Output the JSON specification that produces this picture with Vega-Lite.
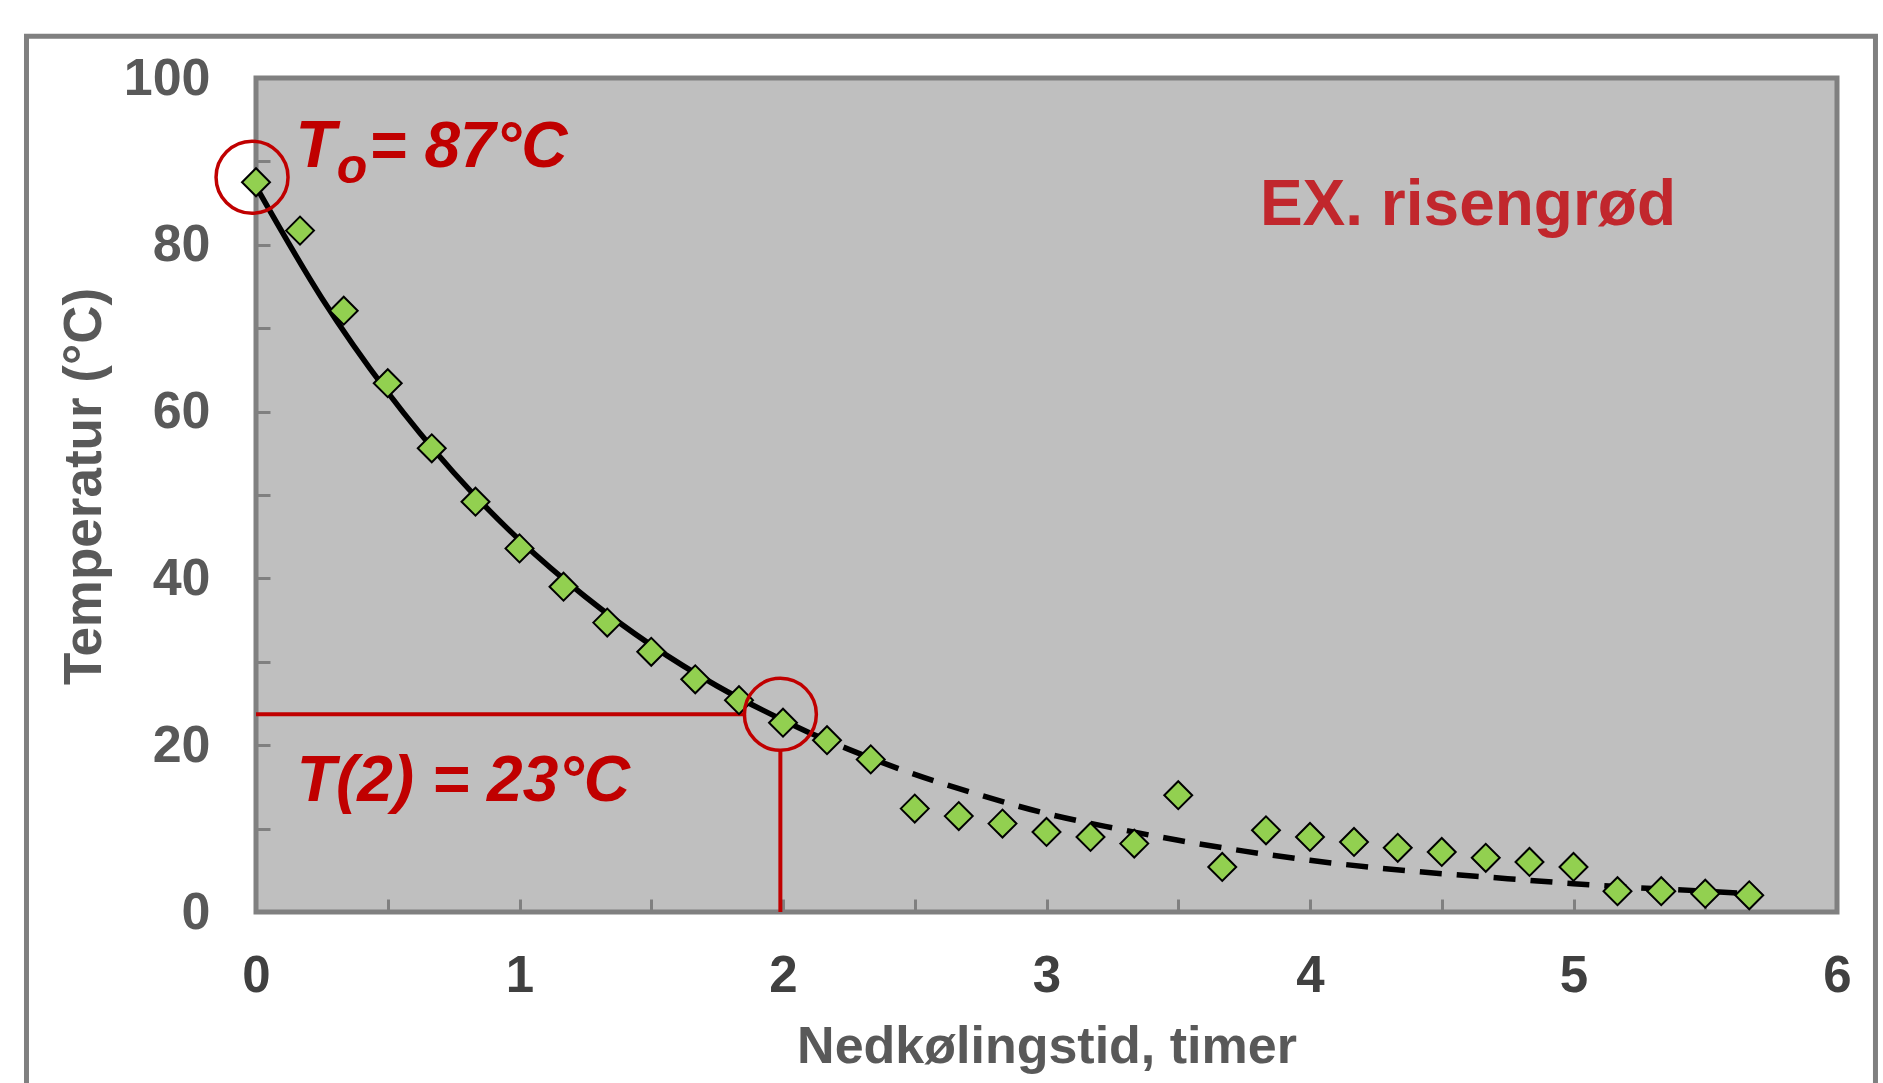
{
  "$schema": "https://vega.github.io/schema/vega-lite/v6.json",
  "width": 1581,
  "height": 834,
  "autosize": {"type": "none"},
  "padding": {"left": 256, "top": 78, "right": 46, "bottom": 171},
  "background": "white",
  "config": {
    "view": {"fill": "#bfbfbf", "stroke": "#808080", "strokeWidth": 5},
    "font": "Liberation Sans"
  },
  "datasets": {
    "obs": [
      {"t": 0, "temp": 87.5}, {"t": 0.167, "temp": 81.7}, {"t": 0.333, "temp": 72.1},
      {"t": 0.5, "temp": 63.4}, {"t": 0.667, "temp": 55.6}, {"t": 0.833, "temp": 49.2},
      {"t": 1.0, "temp": 43.6}, {"t": 1.167, "temp": 39.0}, {"t": 1.333, "temp": 34.7},
      {"t": 1.5, "temp": 31.2}, {"t": 1.667, "temp": 27.9}, {"t": 1.833, "temp": 25.4},
      {"t": 2.0, "temp": 22.7}, {"t": 2.167, "temp": 20.6}, {"t": 2.333, "temp": 18.3},
      {"t": 2.5, "temp": 12.4}, {"t": 2.667, "temp": 11.5}, {"t": 2.833, "temp": 10.6},
      {"t": 3.0, "temp": 9.6}, {"t": 3.167, "temp": 9.0}, {"t": 3.333, "temp": 8.2},
      {"t": 3.5, "temp": 14.0}, {"t": 3.667, "temp": 5.4}, {"t": 3.833, "temp": 9.8},
      {"t": 4.0, "temp": 9.0}, {"t": 4.167, "temp": 8.4}, {"t": 4.333, "temp": 7.7},
      {"t": 4.5, "temp": 7.2}, {"t": 4.667, "temp": 6.5}, {"t": 4.833, "temp": 6.0},
      {"t": 5.0, "temp": 5.4}, {"t": 5.167, "temp": 2.5}, {"t": 5.333, "temp": 2.5},
      {"t": 5.5, "temp": 2.2}, {"t": 5.667, "temp": 2.0}
    ],
    "fit": [
      {"t": 0, "temp": 87.0, "part": "solid"}, {"t": 0.25, "temp": 73.6, "part": "solid"},
      {"t": 0.5, "temp": 62.3, "part": "solid"}, {"t": 0.75, "temp": 52.7, "part": "solid"},
      {"t": 1.0, "temp": 44.6, "part": "solid"}, {"t": 1.25, "temp": 37.8, "part": "solid"},
      {"t": 1.5, "temp": 32.0, "part": "solid"}, {"t": 1.75, "temp": 27.1, "part": "solid"},
      {"t": 2.0, "temp": 23.0, "part": "solid"}, {"t": 2.1, "temp": 21.5, "part": "solid"},
      {"t": 2.1, "temp": 21.5, "part": "dashed"}, {"t": 2.25, "temp": 19.5, "part": "dashed"},
      {"t": 2.5, "temp": 16.5, "part": "dashed"}, {"t": 2.75, "temp": 14.0, "part": "dashed"},
      {"t": 3.0, "temp": 11.8, "part": "dashed"}, {"t": 3.25, "temp": 10.1, "part": "dashed"},
      {"t": 3.5, "temp": 8.6, "part": "dashed"}, {"t": 3.75, "temp": 7.3, "part": "dashed"},
      {"t": 4.0, "temp": 6.2, "part": "dashed"}, {"t": 4.25, "temp": 5.3, "part": "dashed"},
      {"t": 4.5, "temp": 4.6, "part": "dashed"}, {"t": 4.75, "temp": 4.0, "part": "dashed"},
      {"t": 5.0, "temp": 3.4, "part": "dashed"}, {"t": 5.25, "temp": 2.9, "part": "dashed"},
      {"t": 5.5, "temp": 2.5, "part": "dashed"}, {"t": 5.667, "temp": 2.2, "part": "dashed"}
    ],
    "notes": [
      {"t": 0.0, "temp": 87.0, "label": "T0"},
      {"t": 2.0, "temp": 23.0, "label": "T2"}
    ]
  },
  "layer": [
    {
      "data": {"name": "notes"},
      "transform": [{"filter": "datum.label === 'T0'"}],
      "mark": {"type": "rect", "fill": "white", "fillOpacity": 0, "stroke": "#808080", "strokeWidth": 5},
      "encoding": {
        "x": {"datum": -0.871, "type": "quantitative", "scale": {"domain": [0, 6], "nice": false, "zero": false},
          "axis": {
            "title": "Nedkølingstid, timer",
            "values": [0, 0.5, 1, 1.5, 2, 2.5, 3, 3.5, 4, 4.5, 5, 5.5, 6],
            "labelExpr": "datum.value % 1 === 0 ? format(datum.value, 'd') : ''",
            "grid": false, "domain": false,
            "tickColor": "#808080", "tickWidth": 3, "tickSize": -13,
            "labelFont": "Liberation Sans", "labelFontWeight": "bold", "labelFontSize": 51,
            "labelColor": "#404040", "labelPadding": 52, "labelOverlap": false, "labelFlush": false,
            "titleFont": "Liberation Sans", "titleFontWeight": "bold", "titleFontSize": 52,
            "titleColor": "#595959", "titlePadding": 20
          }},
        "x2": {"datum": 6.146},
        "y": {"datum": 105.0, "type": "quantitative", "scale": {"domain": [0, 100], "nice": false},
          "axis": {
            "title": "Temperatur (°C)",
            "values": [0, 10, 20, 30, 40, 50, 60, 70, 80, 90, 100],
            "labelExpr": "datum.value % 20 === 0 ? datum.label : ''",
            "grid": false, "domain": false,
            "tickColor": "#808080", "tickWidth": 3, "tickSize": -14,
            "labelFont": "Liberation Sans", "labelFontWeight": "bold", "labelFontSize": 52,
            "labelColor": "#595959", "labelPadding": 60, "labelOverlap": false, "labelFlush": false,
            "titleFont": "Liberation Sans", "titleFontWeight": "bold", "titleFontSize": 53,
            "titleColor": "#595959", "titlePadding": 12, "titleY": 408
          }},
        "y2": {"datum": -25}
      }
    },
    {
      "data": {"name": "fit"},
      "transform": [{"filter": "datum.part === 'solid'"}],
      "mark": {"type": "line", "color": "black", "strokeWidth": 5.5, "interpolate": "monotone"},
      "encoding": {
        "x": {"field": "t", "type": "quantitative"},
        "y": {"field": "temp", "type": "quantitative"}
      }
    },
    {
      "data": {"name": "fit"},
      "transform": [{"filter": "datum.part === 'dashed'"}],
      "mark": {"type": "line", "color": "black", "strokeWidth": 5.5, "strokeDash": [22, 15], "interpolate": "monotone"},
      "encoding": {
        "x": {"field": "t", "type": "quantitative"},
        "y": {"field": "temp", "type": "quantitative"}
      }
    },
    {
      "data": {"name": "notes"},
      "transform": [{"filter": "datum.label === 'T2'"}],
      "mark": {"type": "rule", "color": "#c00000", "strokeWidth": 4},
      "encoding": {
        "x": {"datum": 0, "type": "quantitative"},
        "x2": {"datum": 1.86},
        "y": {"datum": 23.7, "type": "quantitative"}
      }
    },
    {
      "data": {"name": "notes"},
      "transform": [{"filter": "datum.label === 'T2'"}],
      "mark": {"type": "rule", "color": "#c00000", "strokeWidth": 4},
      "encoding": {
        "x": {"datum": 1.99, "type": "quantitative"},
        "y": {"datum": 19.4, "type": "quantitative"},
        "y2": {"datum": 0}
      }
    },
    {
      "data": {"name": "obs"},
      "mark": {"type": "point", "shape": "diamond", "filled": true, "fill": "#92d050", "stroke": "black", "strokeWidth": 2, "size": 780, "opacity": 1},
      "encoding": {
        "x": {"field": "t", "type": "quantitative"},
        "y": {"field": "temp", "type": "quantitative"}
      }
    },
    {
      "data": {"name": "notes"},
      "transform": [{"filter": "datum.label === 'T0'"}],
      "mark": {"type": "point", "shape": "circle", "filled": false, "stroke": "#c00000", "strokeWidth": 3.5, "size": 5184, "opacity": 1},
      "encoding": {
        "x": {"datum": -0.015, "type": "quantitative"},
        "y": {"datum": 88.1, "type": "quantitative"}
      }
    },
    {
      "data": {"name": "notes"},
      "transform": [{"filter": "datum.label === 'T2'"}],
      "mark": {"type": "point", "shape": "circle", "filled": false, "stroke": "#c00000", "strokeWidth": 3.5, "size": 5184, "opacity": 1},
      "encoding": {
        "x": {"datum": 1.99, "type": "quantitative"},
        "y": {"datum": 23.7, "type": "quantitative"}
      }
    },
    {
      "data": {"name": "notes"},
      "transform": [{"filter": "datum.label === 'T0'"}],
      "mark": {"type": "text", "text": "T", "font": "Liberation Sans", "fontWeight": "bold", "fontStyle": "italic", "fontSize": 66, "color": "#c00000", "align": "left", "baseline": "alphabetic"},
      "encoding": {
        "x": {"datum": 0.15, "type": "quantitative"},
        "y": {"datum": 89.3, "type": "quantitative"}
      }
    },
    {
      "data": {"name": "notes"},
      "transform": [{"filter": "datum.label === 'T0'"}],
      "mark": {"type": "text", "text": "o", "font": "Liberation Sans", "fontWeight": "bold", "fontStyle": "italic", "fontSize": 50, "color": "#c00000", "align": "left", "baseline": "alphabetic"},
      "encoding": {
        "x": {"datum": 0.306, "type": "quantitative"},
        "y": {"datum": 87.4, "type": "quantitative"}
      }
    },
    {
      "data": {"name": "notes"},
      "transform": [{"filter": "datum.label === 'T0'"}],
      "mark": {"type": "text", "text": "= 87°C", "font": "Liberation Sans", "fontWeight": "bold", "fontStyle": "italic", "fontSize": 64, "color": "#c00000", "align": "left", "baseline": "alphabetic"},
      "encoding": {
        "x": {"datum": 0.43, "type": "quantitative"},
        "y": {"datum": 89.3, "type": "quantitative"}
      }
    },
    {
      "data": {"name": "notes"},
      "transform": [{"filter": "datum.label === 'T2'"}],
      "mark": {"type": "text", "text": "T(2) = 23°C", "font": "Liberation Sans", "fontWeight": "bold", "fontStyle": "italic", "fontSize": 64, "color": "#c00000", "align": "left", "baseline": "alphabetic"},
      "encoding": {
        "x": {"datum": 0.155, "type": "quantitative"},
        "y": {"datum": 13.3, "type": "quantitative"}
      }
    },
    {
      "data": {"name": "notes"},
      "transform": [{"filter": "datum.label === 'T0'"}],
      "mark": {"type": "text", "text": "EX. risengrød", "font": "Liberation Sans", "fontWeight": "bold", "fontSize": 64, "color": "#c1272d", "align": "left", "baseline": "alphabetic"},
      "encoding": {
        "x": {"datum": 3.81, "type": "quantitative"},
        "y": {"datum": 82.4, "type": "quantitative"}
      }
    }
  ]
}
